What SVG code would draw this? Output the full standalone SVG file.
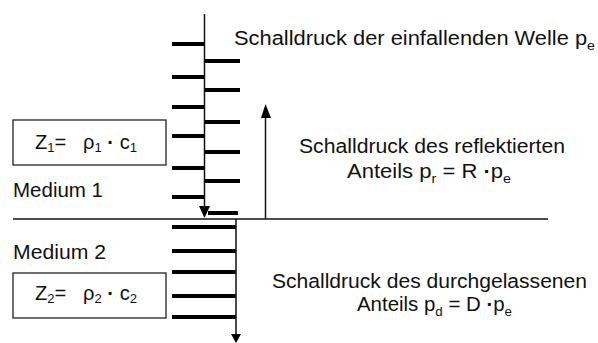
<svg xmlns="http://www.w3.org/2000/svg" width="598" height="343" viewBox="0 0 598 343">
<style>
text{font-family:"Liberation Sans",Arial,sans-serif;fill:#111;font-size:20px}
.sub{font-size:13px}
.dot{font-weight:bold}
.bar{stroke:#000;stroke-width:4}
.ln{stroke:#111;stroke-width:1.5;fill:none}
.box{fill:#fff;stroke:#222;stroke-width:1.3}
.ah{fill:#000}
</style>
<rect width="598" height="343" fill="#fff"/>
<g id="interface">
<line class="ln" x1="13" y1="219" x2="548" y2="219"/>
</g>
<g id="bars-medium1">
<line class="bar" x1="172" y1="44" x2="205" y2="44"/>
<line class="bar" x1="172" y1="77" x2="205" y2="77"/>
<line class="bar" x1="172" y1="107" x2="205" y2="107"/>
<line class="bar" x1="172" y1="136" x2="205" y2="136"/>
<line class="bar" x1="172" y1="168" x2="205" y2="168"/>
<line class="bar" x1="172" y1="197" x2="205" y2="197"/>
<line class="bar" x1="204" y1="61" x2="240" y2="61"/>
<line class="bar" x1="204" y1="90" x2="240" y2="90"/>
<line class="bar" x1="204" y1="122" x2="240" y2="122"/>
<line class="bar" x1="204" y1="152" x2="240" y2="152"/>
<line class="bar" x1="204" y1="181" x2="240" y2="181"/>
<line class="bar" x1="208" y1="213" x2="238" y2="213"/>
</g>
<g id="bars-medium2">
<line class="bar" x1="172" y1="227" x2="236" y2="227"/>
<line class="bar" x1="172" y1="251" x2="236" y2="251"/>
<line class="bar" x1="172" y1="272" x2="236" y2="272"/>
<line class="bar" x1="172" y1="296" x2="236" y2="296"/>
<line class="bar" x1="172" y1="317" x2="236" y2="317"/>
</g>
<g id="connectors">
<line class="ln" x1="204.5" y1="14" x2="204.5" y2="210"/>
<polygon class="ah" points="199,206 210,206 204.5,218"/>
<line class="ln" x1="236" y1="219" x2="236" y2="336"/>
<polygon class="ah" points="231,334 241,334 236,343"/>
<line class="ln" x1="265.5" y1="219" x2="265.5" y2="114"/>
<polygon class="ah" points="261,118 271,118 265.5,104"/>
</g>
<g id="box1">
<rect class="box" x="13" y="120" width="153" height="45"/>
<text x="35" y="149" textLength="102" lengthAdjust="spacingAndGlyphs">Z<tspan class="sub" dy="3">1</tspan><tspan dy="-3">=&#160;&#160; ρ</tspan><tspan class="sub" dy="3">1</tspan><tspan dy="-3">&#160;<tspan class="dot">·</tspan>&#160;c</tspan><tspan class="sub" dy="3">1</tspan></text>
</g>
<g id="box2">
<rect class="box" x="13" y="273" width="153" height="45"/>
<text x="35" y="300" textLength="102" lengthAdjust="spacingAndGlyphs">Z<tspan class="sub" dy="3">2</tspan><tspan dy="-3">=&#160;&#160; ρ</tspan><tspan class="sub" dy="3">2</tspan><tspan dy="-3">&#160;<tspan class="dot">·</tspan>&#160;c</tspan><tspan class="sub" dy="3">2</tspan></text>
</g>
<g id="medium-labels">
<text x="13" y="197" textLength="90" lengthAdjust="spacingAndGlyphs">Medium 1</text>
<text x="13" y="259" textLength="93" lengthAdjust="spacingAndGlyphs">Medium 2</text>
</g>
<g id="incident-label">
<text x="234" y="45" textLength="361" lengthAdjust="spacingAndGlyphs">Schalldruck der einfallenden Welle p<tspan class="sub" dy="5">e</tspan></text>
</g>
<g id="reflected-label">
<text x="299" y="153" textLength="266" lengthAdjust="spacingAndGlyphs">Schalldruck des reflektierten</text>
<text x="347" y="178" textLength="164" lengthAdjust="spacingAndGlyphs">Anteils p<tspan class="sub" dy="5">r</tspan><tspan dy="-5"> = R <tspan class="dot">·</tspan>p</tspan><tspan class="sub" dy="5">e</tspan></text>
</g>
<g id="transmitted-label">
<text x="272" y="288" textLength="315" lengthAdjust="spacingAndGlyphs">Schalldruck des durchgelassenen</text>
<text x="357" y="311" textLength="155" lengthAdjust="spacingAndGlyphs">Anteils p<tspan class="sub" dy="5">d</tspan><tspan dy="-5"> = D <tspan class="dot">·</tspan>p</tspan><tspan class="sub" dy="5">e</tspan></text>
</g>
</svg>
